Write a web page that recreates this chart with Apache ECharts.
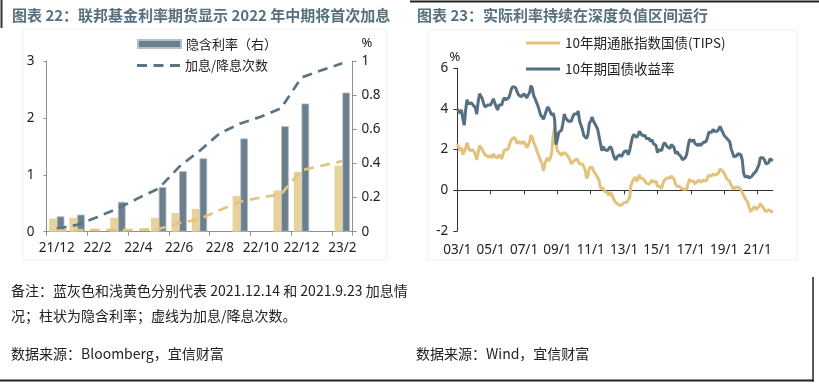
<!DOCTYPE html>
<html><head><meta charset="utf-8">
<script src="https://cdn.jsdelivr.net/npm/echarts@6/dist/echarts.min.js"></script>
<style>html,body{margin:0;padding:0;background:#fff}#c{width:819px;height:384px}</style>
</head><body><div id="c"></div>
<script>
// ---------- Left chart data ----------
const leftCategories = ['21/12','22/1','22/2','22/3','22/4','22/5','22/6','22/7','22/8','22/9','22/10','22/11','22/12','23/1','23/2'];
const impliedRateDec14 = [0.09, 0.10, null, 0.175, null, 0.262, 0.355, 0.43, null, 0.546, null, 0.618, 0.751, null, 0.815];
const impliedRateSep23 = [0.077, 0.082, null, 0.082, null, 0.082, 0.11, 0.133, null, 0.21, null, 0.242, 0.35, null, 0.387];
const hikeCountDec14 = [0.05, 0.12, 0.26, 0.41, 0.59, 0.76, 1.14, 1.42, 1.73, 1.90, 2.02, 2.17, 2.71, 2.84, 2.96];
const hikeCountSep23 = [0.02, 0.03, 0.03, 0.03, 0.03, 0.05, 0.15, 0.22, 0.38, 0.53, 0.60, 0.66, 1.08, 1.16, 1.24];
const leftAxisTicks = [0, 1, 2, 3];
const rightAxisTicks = [0, 0.2, 0.4, 0.6, 0.8, 1];

// ---------- Right chart data (monthly, 2003/1 - 2021/12) ----------
const rightTickLabels = ['03/1','05/1','07/1','09/1','11/1','13/1','15/1','17/1','19/1','21/1'];
const startYear = 2003, endYear = 2021;
const ust10y = [
 4.0, 3.9, 3.8, 3.95, 3.5, 3.2, 3.95, 4.45, 4.25, 4.3, 4.3, 4.25,
 4.15, 4.05, 3.75, 4.35, 4.75, 4.7, 4.5, 4.25, 4.1, 4.05, 4.2, 4.2,
 4.2, 4.15, 4.5, 4.3, 4.1, 3.95, 4.2, 4.25, 4.2, 4.45, 4.55, 4.45,
 4.4, 4.55, 4.75, 5.0, 5.1, 5.15, 5.05, 4.85, 4.7, 4.7, 4.6, 4.55,
 4.75, 4.7, 4.55, 4.7, 4.8, 5.15, 5.0, 4.65, 4.5, 4.5, 4.15, 4.1,
 3.7, 3.7, 3.5, 3.7, 3.9, 4.1, 4.0, 3.85, 3.7, 3.8, 3.5, 2.25,
 2.5, 2.85, 2.8, 2.95, 3.3, 3.75, 3.55, 3.6, 3.4, 3.4, 3.4, 3.6,
 3.75, 3.7, 3.75, 3.9, 3.4, 3.2, 3.0, 2.7, 2.65, 2.55, 2.75, 3.3,
 3.4, 3.6, 3.4, 3.45, 3.15, 3.0, 3.0, 2.3, 1.95, 2.15, 2.0, 1.95,
 1.95, 1.95, 2.15, 2.05, 1.8, 1.6, 1.5, 1.65, 1.7, 1.75, 1.65, 1.7,
 1.9, 1.95, 1.95, 1.75, 1.95, 2.3, 2.6, 2.75, 2.8, 2.6, 2.7, 2.9,
 2.85, 2.7, 2.7, 2.7, 2.55, 2.6, 2.55, 2.4, 2.5, 2.3, 2.35, 2.2,
 1.85, 2.0, 2.05, 1.95, 2.2, 2.35, 2.3, 2.15, 2.15, 2.05, 2.25, 2.25,
 2.1, 1.8, 1.9, 1.8, 1.8, 1.65, 1.5, 1.55, 1.6, 1.75, 2.15, 2.5,
 2.45, 2.4, 2.5, 2.3, 2.3, 2.2, 2.3, 2.2, 2.2, 2.35, 2.35, 2.4,
 2.6, 2.85, 2.85, 2.85, 3.0, 2.9, 2.9, 2.9, 3.0, 3.15, 3.1, 2.85,
 2.7, 2.65, 2.55, 2.55, 2.4, 2.05, 2.05, 1.65, 1.7, 1.7, 1.8, 1.85,
 1.75, 1.5, 0.85, 0.65, 0.65, 0.7, 0.6, 0.65, 0.7, 0.8, 0.85, 0.95,
 1.1, 1.25, 1.6, 1.65, 1.6, 1.5, 1.3, 1.3, 1.35, 1.55, 1.55, 1.45
];
const tips10y = [
 2.3, 2.1, 1.95, 2.1, 1.75, 1.7, 2.05, 2.35, 2.1, 1.95, 1.95, 2.0,
 1.9, 1.75, 1.5, 1.85, 2.2, 2.15, 2.0, 1.85, 1.75, 1.7, 1.65, 1.7,
 1.7, 1.6, 1.8, 1.65, 1.6, 1.6, 1.75, 1.8, 1.55, 1.8, 2.0, 2.05,
 2.0, 2.1, 2.35, 2.5, 2.5, 2.6, 2.5, 2.3, 2.3, 2.4, 2.3, 2.3,
 2.4, 2.35, 2.1, 2.2, 2.4, 2.7, 2.6, 2.35, 2.2, 2.15, 1.8, 1.75,
 1.45, 1.3, 0.95, 1.3, 1.5, 1.6, 1.45, 1.6, 1.9, 2.7, 3.1, 2.3,
 1.95, 1.9, 1.8, 1.7, 1.85, 1.85, 1.8, 1.8, 1.65, 1.5, 1.3, 1.35,
 1.45, 1.45, 1.55, 1.5, 1.3, 1.3, 1.3, 1.15, 1.0, 0.6, 0.7, 1.1,
 1.1, 1.15, 0.95, 0.85, 0.75, 0.7, 0.5, 0.1, 0.05, 0.1, -0.05, -0.05,
 -0.1, -0.25, -0.1, -0.2, -0.35, -0.5, -0.6, -0.55, -0.7, -0.75, -0.75, -0.7,
 -0.6, -0.55, -0.6, -0.65, -0.35, 0.25, 0.45, 0.55, 0.65, 0.45, 0.55, 0.75,
 0.6, 0.55, 0.55, 0.5, 0.35, 0.35, 0.3, 0.25, 0.5, 0.4, 0.45, 0.45,
 0.2, 0.2, 0.2, 0.1, 0.35, 0.5, 0.5, 0.6, 0.65, 0.6, 0.7, 0.7,
 0.55, 0.3, 0.2, 0.2, 0.2, 0.1, 0.05, 0.05, 0.05, 0.05, 0.3, 0.55,
 0.45, 0.4, 0.45, 0.3, 0.4, 0.45, 0.5, 0.4, 0.4, 0.5, 0.5, 0.45,
 0.5, 0.75, 0.7, 0.7, 0.8, 0.75, 0.75, 0.8, 0.85, 1.05, 1.1, 0.95,
 0.85, 0.7, 0.55, 0.55, 0.45, 0.25, 0.25, 0.05, 0.15, 0.15, 0.15, 0.15,
 0.05, -0.1, -0.1, -0.4, -0.45, -0.6, -0.85, -1.05, -0.95, -0.9, -0.8, -0.95,
 -0.9, -0.8, -0.65, -0.7, -0.85, -0.8, -1.05, -1.05, -0.95, -0.95, -1.05, -1.0
];
const rightAxisValues = [-2, 0, 2, 4, 6];

const months = [];
for (let y = startYear; y <= endYear; y++) {
  for (let m = 1; m <= 12; m++) months.push(String(y % 100).padStart(2, '0') + '/' + m);
}
const showTick = (i, v) => rightTickLabels.indexOf(v) >= 0;

const FONT = '"Noto Sans", "Noto Sans CJK SC", sans-serif';
const CJK = '"Noto Sans CJK SC", "Noto Sans", sans-serif';
const TXT = '#222';
const BLUE_BAR = '#6b808c', BEIGE_BAR = '#e8d29b';
const BLUE_LINE = '#5a7483', BEIGE_LINE = '#e3c37e';
const TIPS_COLOR = '#e2c27c', UST_COLOR = '#56707f';
const DASH_ICON = 'path://M0,0h10v3h-10z M16.5,0h10v3h-10z M33,0h10v3h-10z';

const chart = echarts.init(document.getElementById('c'), null, {renderer: 'canvas'});
const axisGray = '#8f8f8f';
chart.setOption({
  animation: false,
  backgroundColor: '#fff',
  grid: [
    {left: 46.5, top: 61, width: 306, height: 170.7, containLabel: false, outerBoundsMode: 'none'},
    {left: 457.3, top: 68.3, width: 315.5, height: 162.7, containLabel: false, outerBoundsMode: 'none'}
  ],
  legend: [
    {data: [{name: '隐含利率（右）', icon: 'rect'}], left: 137, top: 37.5, padding: 0, itemWidth: 43, itemHeight: 8, selectedMode: false,
      textStyle: {fontSize: 13, color: TXT, fontFamily: CJK}},
    {data: [{name: '加息/降息次数', icon: DASH_ICON, itemStyle: {color: BLUE_LINE}}], left: 137, top: 59, padding: 0, itemWidth: 43, itemHeight: 3, selectedMode: false,
      textStyle: {fontSize: 13, color: TXT, fontFamily: CJK}},
    {data: [{name: '10年期通胀指数国债(TIPS)', icon: 'rect', itemStyle: {color: TIPS_COLOR}}], left: 526, top: 36.3, padding: 0, itemWidth: 34, itemHeight: 3, selectedMode: false,
      textStyle: {fontSize: 13.5, color: TXT, fontFamily: CJK}},
    {data: [{name: '10年期国债收益率', icon: 'rect', itemStyle: {color: UST_COLOR}}], left: 526, top: 62.3, padding: 0, itemWidth: 34, itemHeight: 3, selectedMode: false,
      textStyle: {fontSize: 13.5, color: TXT, fontFamily: CJK}}
  ],
  xAxis: [
    {gridIndex: 0, type: 'category', data: leftCategories, position: 'bottom',
      axisLine: {show: true, lineStyle: {color: axisGray, width: 1}},
      axisTick: {show: true, length: 4, lineStyle: {color: axisGray}},
      axisLabel: {interval: 1, color: TXT, fontSize: 13.5, fontFamily: FONT, margin: 10},
      splitLine: {show: false}},
    {gridIndex: 1, type: 'category', data: months, boundaryGap: false, position: 'bottom',
      axisLine: {show: true, onZero: true, lineStyle: {color: '#333', width: 1}},
      axisTick: {show: true, length: 4, interval: showTick, lineStyle: {color: '#333'}},
      axisLabel: {show: false}, splitLine: {show: false}},
    {gridIndex: 1, type: 'category', data: months, boundaryGap: false, position: 'bottom',
      axisLine: {show: false, onZero: false},
      axisTick: {show: false},
      axisLabel: {interval: showTick, color: TXT, fontSize: 13.5, fontFamily: FONT, margin: 12},
      splitLine: {show: false}}
  ],
  yAxis: [
    {gridIndex: 0, type: 'value', min: leftAxisTicks[0], max: leftAxisTicks[leftAxisTicks.length - 1], interval: 1,
      axisLine: {show: true, lineStyle: {color: axisGray}},
      axisTick: {show: true, length: 3, lineStyle: {color: axisGray}},
      axisLabel: {color: TXT, fontSize: 13.5, fontFamily: FONT, margin: 12},
      splitLine: {show: false}},
    {gridIndex: 0, type: 'value', position: 'right', min: rightAxisTicks[0], max: rightAxisTicks[rightAxisTicks.length - 1], interval: 0.2,
      axisLine: {show: true, lineStyle: {color: axisGray}},
      axisTick: {show: true, length: 4, lineStyle: {color: axisGray}},
      axisLabel: {color: TXT, fontSize: 13.5, fontFamily: FONT, margin: 9,
        formatter: v => String(Math.round(v * 10) / 10)},
      splitLine: {show: false}},
    {gridIndex: 1, type: 'value', min: rightAxisValues[0], max: rightAxisValues[rightAxisValues.length - 1], interval: 2,
      axisLine: {show: true, lineStyle: {color: '#333'}},
      axisTick: {show: true, length: 4, lineStyle: {color: '#333'}},
      axisLabel: {color: TXT, fontSize: 13.5, fontFamily: FONT, margin: 9},
      splitLine: {show: false}}
  ],
  series: [
    {type: 'bar', name: '隐含利率（2021.9.23）', xAxisIndex: 0, yAxisIndex: 1, data: impliedRateSep23,
      barWidth: 7.7, barGap: '0%', itemStyle: {color: BEIGE_BAR}},
    {type: 'bar', name: '隐含利率（右）', xAxisIndex: 0, yAxisIndex: 1, data: impliedRateDec14,
      barWidth: 7.7, barGap: '0%', itemStyle: {color: BLUE_BAR, borderColor: '#b4c0c6', borderWidth: 0.8}},
    {type: 'line', name: '加息/降息次数', xAxisIndex: 0, yAxisIndex: 0, data: hikeCountDec14, symbol: 'none',
      lineStyle: {color: BLUE_LINE, width: 2.7, type: [10, 6.5]}, itemStyle: {color: BLUE_LINE}},
    {type: 'line', name: '加息/降息次数（2021.9.23）', xAxisIndex: 0, yAxisIndex: 0, data: hikeCountSep23, symbol: 'none',
      lineStyle: {color: BEIGE_LINE, width: 2.7, type: [10, 6.5]}, itemStyle: {color: BEIGE_LINE}},
    {type: 'line', name: '10年期通胀指数国债(TIPS)', xAxisIndex: 1, yAxisIndex: 2, data: tips10y, symbol: 'none',
      lineStyle: {color: TIPS_COLOR, width: 3}, itemStyle: {color: TIPS_COLOR}},
    {type: 'line', name: '10年期国债收益率', xAxisIndex: 1, yAxisIndex: 2, data: ust10y, symbol: 'none',
      lineStyle: {color: UST_COLOR, width: 3}, itemStyle: {color: UST_COLOR}}
  ],
  graphic: [
    {type: 'rect', shape: {x: 23, y: 29, width: 364, height: 231}, style: {fill: 'none', stroke: '#f0f0f0', lineWidth: 1}, silent: true},
    {type: 'rect', shape: {x: 428, y: 30, width: 369, height: 230}, style: {fill: 'none', stroke: '#f0f0f0', lineWidth: 1}, silent: true},
    {type: 'line', shape: {x1: 1.5, y1: 0, x2: 1.5, y2: 28}, style: {stroke: '#333', lineWidth: 2}},
    {type: 'line', shape: {x1: 410, y1: 1.5, x2: 819, y2: 1.5}, style: {stroke: '#222', lineWidth: 2}},
    {type: 'line', shape: {x1: 0, y1: 380.5, x2: 814, y2: 380.5}, style: {stroke: '#222', lineWidth: 2}},
    {type: 'line', shape: {x1: 813, y1: 277, x2: 813, y2: 381.5}, style: {stroke: '#222', lineWidth: 1.5}},
    {type: 'text', x: 12, y: 15, style: {text: '图表 22：联邦基金利率期货显示 2022 年中期将首次加息', font: 'bold 15px ' + CJK, fill: '#56707f', verticalAlign: 'middle', textVerticalAlign: 'middle'}},
    {type: 'text', x: 417, y: 15, style: {text: '图表 23：实际利率持续在深度负值区间运行', font: 'bold 15px ' + CJK, fill: '#56707f', verticalAlign: 'middle', textVerticalAlign: 'middle'}},
    {type: 'text', x: 367, y: 43, style: {text: '%', font: '13px ' + FONT, fill: TXT, align: 'center', textAlign: 'center', verticalAlign: 'middle', textVerticalAlign: 'middle'}},
    {type: 'text', x: 455, y: 57, style: {text: '%', font: '13px ' + FONT, fill: TXT, align: 'center', textAlign: 'center', verticalAlign: 'middle', textVerticalAlign: 'middle'}},
    {type: 'text', x: 11, y: 291, style: {text: '备注：蓝灰色和浅黄色分别代表 2021.12.14 和 2021.9.23 加息情', font: '14px ' + CJK, fill: TXT, verticalAlign: 'middle', textVerticalAlign: 'middle'}},
    {type: 'text', x: 11, y: 316, style: {text: '况；柱状为隐含利率；虚线为加息/降息次数。', font: '14px ' + CJK, fill: TXT, verticalAlign: 'middle', textVerticalAlign: 'middle'}},
    {type: 'text', x: 11, y: 354, style: {text: '数据来源：Bloomberg，宜信财富', font: '14px ' + CJK, fill: TXT, verticalAlign: 'middle', textVerticalAlign: 'middle'}},
    {type: 'text', x: 416, y: 354, style: {text: '数据来源：Wind，宜信财富', font: '14px ' + CJK, fill: TXT, verticalAlign: 'middle', textVerticalAlign: 'middle'}}
  ]
});
</script></body></html>
